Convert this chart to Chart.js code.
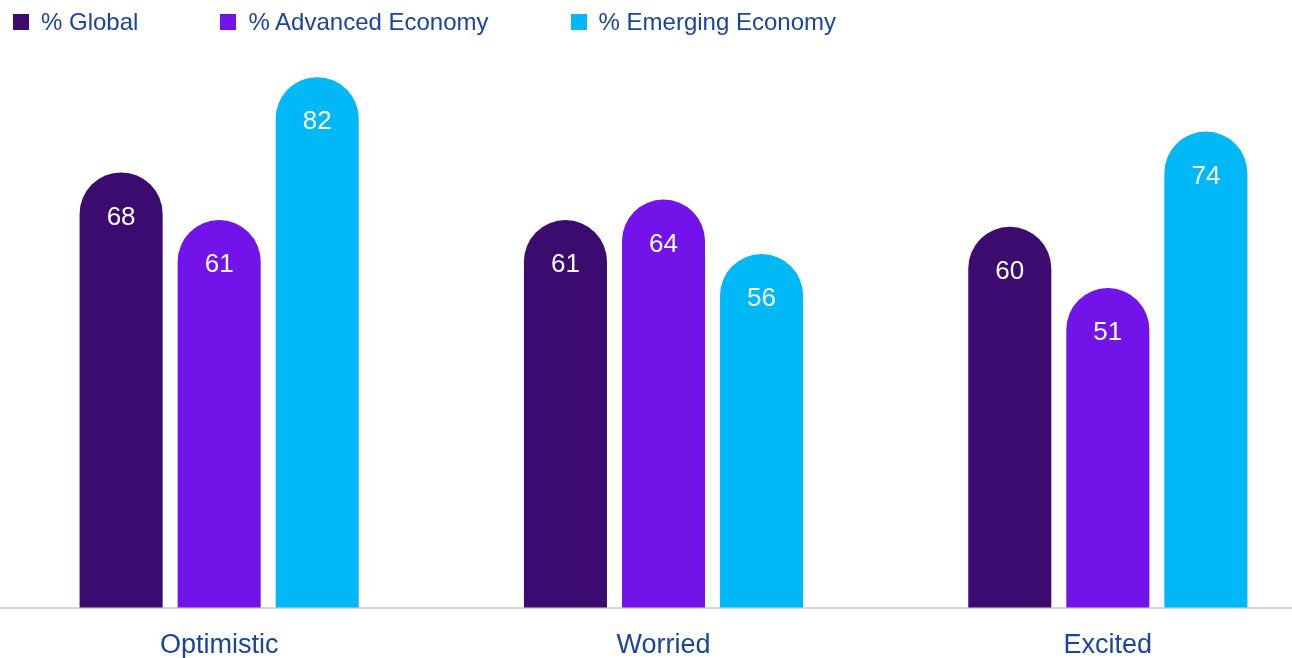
<!DOCTYPE html>
<html>
<head>
<meta charset="utf-8">
<script src="https://cdn.jsdelivr.net/npm/chart.js@4.4.1/dist/chart.umd.min.js"></script>
<style>
    html, body { margin: 0; padding: 0; background: #fff; overflow: hidden; }
    body { width: 1292px; height: 658px; position: relative; font-family: "Liberation Sans", Arial, sans-serif; }
    #legend { position: absolute; left: 13px; top: 8px; display: flex; z-index: 2; }
    #legend .item { display: flex; align-items: center; margin-right: 82px; font-size: 24px; color: #1b44a0; height: 28px; }
    #legend .box { width: 16px; height: 16px; margin-right: 12px; }
    #myChart { position: absolute; left: -3px; top: 0; }
</style>
</head>
<body>
<div id="legend"></div>
<canvas id="myChart" width="1333" height="684"></canvas>
<script>
// data
const categories = ['Optimistic', 'Worried', 'Excited'];
const seriesNames = ['% Global', '% Advanced Economy', '% Emerging Economy'];
const seriesColors = ['#3b0b6f', '#7213ea', '#00b8f5'];
const globalValues = [68, 61, 60];
const advancedValues = [61, 64, 51];
const emergingValues = [82, 56, 74];
const yMin = 4;
const yMax = 86;

const textBlue = '#1b44a0';

// draws the numbers inside the top of each bar
const barValues = {
    id: 'barValues',
    afterDatasetsDraw(chart) {
        const ctx = chart.ctx;
        ctx.save();
        ctx.fillStyle = '#ffffff';
        ctx.font = '26px "Liberation Sans", Arial, sans-serif';
        ctx.textAlign = 'center';
        ctx.textBaseline = 'middle';
        chart.data.datasets.forEach((ds, i) => {
            chart.getDatasetMeta(i).data.forEach((bar, j) => {
                ctx.fillText(ds.data[j], bar.x, bar.y + 45);
            });
        });
        ctx.restore();
    }
};

const values = [globalValues, advancedValues, emergingValues];

const data = {
    labels: categories,
    datasets: seriesNames.map((name, i) => ({
        label: name,
        data: values[i],
        backgroundColor: seriesColors[i],
        borderWidth: 0,
        borderRadius: { topLeft: 60, topRight: 60, bottomLeft: 0, bottomRight: 0 },
        borderSkipped: 'bottom',
        categoryPercentage: 0.662,
        barPercentage: 0.847
    }))
};

const config = {
    type: 'bar',
    data,
    options: {
        responsive: false,
        animation: false,
        layout: {
            padding: { top: 50, bottom: 0, left: 0, right: 0 }
        },
        plugins: {
            legend: { display: false },
            tooltip: { enabled: false }
        },
        scales: {
            x: {
                grid: { display: false, drawTicks: false },
                border: { display: true, color: '#d6d6d6', width: 2 },
                ticks: {
                    color: textBlue,
                    padding: 22,
                    font: { family: '"Liberation Sans", Arial, sans-serif', size: 27 }
                }
            },
            y: {
                min: yMin,
                max: yMax,
                display: false
            }
        }
    },
    plugins: [barValues]
};

const myChart = new Chart(document.getElementById('myChart'), config);

// legend as html
const legend = document.getElementById('legend');
myChart.data.datasets.forEach(ds => {
    const item = document.createElement('div');
    item.className = 'item';
    item.innerHTML = `<span class="box" style="background:${ds.backgroundColor}"></span>${ds.label}`;
    legend.appendChild(item);
});
</script>
</body>
</html>
